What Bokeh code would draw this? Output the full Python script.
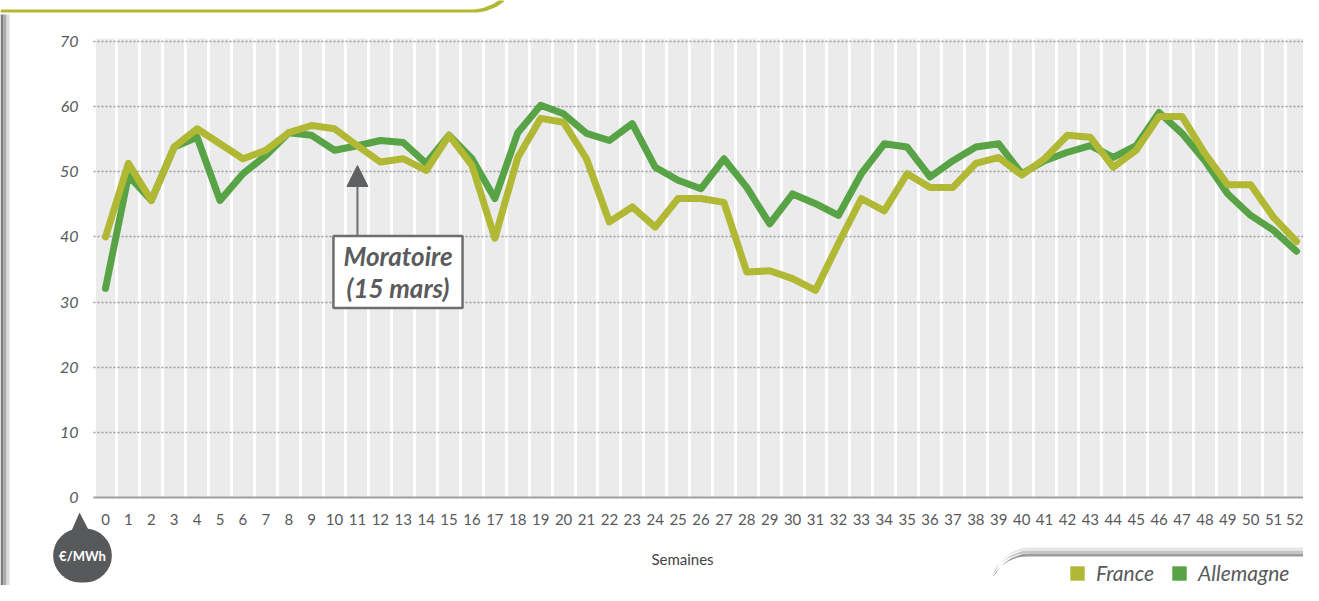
import math
import numpy as np
from bokeh.plotting import figure
from bokeh.models import (Range1d, FixedTicker, Label, Arrow, NormalHead, Legend, LegendItem,
                          BoxAnnotation, PolyAnnotation)
from bokeh.embed import file_html
from bokeh.resources import INLINE

weeks = list(range(53))
france = [40.0, 51.3, 45.6, 53.8, 56.6, 54.3, 52.0, 53.3, 56.0, 57.1, 56.6, 54.0, 51.5, 52.0, 50.2,
          55.6, 51.0, 39.8, 52.2, 58.2, 57.6, 52.0, 42.3, 44.6, 41.5, 45.9, 45.9, 45.3, 34.6, 34.8,
          33.6, 31.8, 39.0, 45.9, 44.0, 49.7, 47.6, 47.6, 51.3, 52.2, 49.5, 52.0, 55.6, 55.3, 50.7,
          53.3, 58.5, 58.5, 52.8, 48.0, 48.0, 43.0, 39.3]
germany = [32.1, 49.4, 45.6, 53.8, 55.3, 45.6, 49.7, 52.5, 56.0, 55.6, 53.3, 54.0, 54.8, 54.5, 51.3,
           55.6, 52.0, 45.9, 56.0, 60.2, 58.9, 55.9, 54.8, 57.4, 50.7, 48.7, 47.4, 52.0, 47.6, 42.0,
           46.6, 45.1, 43.3, 49.7, 54.3, 53.8, 49.2, 51.7, 53.8, 54.3, 49.7, 51.7, 53.0, 54.0, 52.2,
           54.0, 59.1, 55.9, 51.7, 46.6, 43.3, 41.0, 37.8]
y_ticks = [0, 10, 20, 30, 40, 50, 60, 70]
series_names = ["France", "Allemagne"]
x_title = "Semaines"
unit_text = "€/MWh"
note_text = "Moratoire\n(15 mars)"
note_week = 11

C_FR = "#b1b834"
C_DE = "#58a345"
GREY_TXT = "#58595b"
FONT = "Lato"
W, H = 1303, 585

# canvas pixel -> data helpers (layout only)
PX0, PXS = 105.0, 22.904
PY0, PYS = 497.0, 6.5143
def X(px):
    return (px - PX0) / PXS
def Y(py):
    return (PY0 - py) / PYS

p = figure(width=W, height=H, x_range=Range1d(X(0), X(W)), y_range=Range1d(Y(H), Y(0)),
           output_backend="svg", toolbar_location=None, title=None,
           min_border_left=0, min_border_right=0, min_border_top=0, min_border_bottom=0)
p.background_fill_color = "white"
p.border_fill_color = "white"
p.outline_line_color = None

# grey plotting panel
p.add_layout(BoxAnnotation(left=X(93), bottom=0, top=Y(38), fill_color="#ebebeb", fill_alpha=1,
                           line_color=None, level="image"))

# axes (fixed inside the canvas)
p.xaxis.fixed_location = 0
p.xaxis.bounds = (X(93), X(W))
p.xaxis.ticker = FixedTicker(ticks=weeks)
p.xaxis.axis_line_color = "#a0a0a0"
p.xaxis.axis_line_width = 2
p.xaxis.major_tick_line_color = None
p.xaxis.minor_tick_line_color = None
p.xaxis.major_label_text_font = FONT
p.xaxis.major_label_text_font_size = "15px"
p.xaxis.major_label_text_color = GREY_TXT
p.xaxis.major_label_standoff = 10

p.yaxis.fixed_location = X(93)
p.yaxis.bounds = (0, 70)
p.yaxis.ticker = FixedTicker(ticks=y_ticks)
p.yaxis.axis_line_color = None
p.yaxis.major_tick_line_color = None
p.yaxis.minor_tick_line_color = None
p.yaxis.major_label_text_font = FONT
p.yaxis.major_label_text_font_style = "italic"
p.yaxis.major_label_text_font_size = "16px"
p.yaxis.major_label_text_color = GREY_TXT
p.yaxis.major_label_standoff = 9

# grids
p.xgrid.ticker = FixedTicker(ticks=[i + 0.5 for i in range(-1, 53)])
p.xgrid.cross_bounds = (0, Y(38))
p.xgrid.grid_line_color = "white"
p.xgrid.grid_line_width = 3
p.ygrid.ticker = FixedTicker(ticks=y_ticks[1:])
p.ygrid.cross_bounds = (X(93), X(W))
p.ygrid.grid_line_color = "#9a9a9a"
p.ygrid.grid_line_width = 1.5
p.ygrid.grid_line_dash = "2 2"

# series
p.line(weeks, germany, line_width=7, color=C_DE, line_join="round", line_cap="round")
p.line(weeks, france, line_width=7, color=C_FR, line_join="round", line_cap="round")

# Moratoire annotation
p.add_layout(Arrow(x_start=note_week, y_start=Y(241), x_end=note_week, y_end=Y(165),
                   end=NormalHead(size=21, fill_color="#5f6062", line_color="#5f6062"),
                   line_color="#6d6e70", line_width=2))
p.add_layout(Label(x=X(397.5), y=Y(271.5), text=note_text, text_align="center",
                   text_baseline="middle", text_font=FONT, text_font_style="bold italic",
                   text_font_size="26px", text_color="#5b5b5d", text_line_height=1.0,
                   background_fill_color="white", border_line_color="#6d6e70",
                   border_line_width=2.5, padding=(10, 4)))

# x title
p.add_layout(Label(x=X(682), y=Y(558), text=x_title, text_align="center", text_baseline="middle",
                   text_font=FONT, text_font_size="15px", text_color="#444444"))

# unit badge
p.add_layout(PolyAnnotation(xs=[X(69), X(79), X(91)], ys=[Y(535), Y(512), Y(535)],
                            fill_color=GREY_TXT, fill_alpha=1, line_color=None))
p.add_layout(Label(x=X(82), y=Y(555), text=unit_text, text_align="center", text_baseline="middle",
                   text_font=FONT, text_font_style="bold", text_font_size="13px", text_color="white",
                   background_fill_color=GREY_TXT, border_radius=27, padding=(6, 19)))

# frame decorations: top green rule with curved end, left shadow, bottom-right tab edge
R = 48.0
arc = [(470 + R * math.sin(math.radians(a)), (10.5 - R) + R * math.cos(math.radians(a)))
       for a in range(0, 41, 4)]
top_x = [X(0)] + [X(x) for x, _ in arc] + [X(x + 3) for x, _ in reversed(arc)] + [X(0)]
top_y = [Y(9)] + [Y(y - 1.5) for _, y in arc] + [Y(y + 1.5) for _, y in reversed(arc)] + [Y(12)]
p.add_layout(PolyAnnotation(xs=top_x, ys=top_y, fill_color=C_FR, fill_alpha=1, line_color=None))

for x0, x1, col in [(0, 3, "#7d7d7d"), (3, 6, "#a9a9a9"), (6, 9, "#dcdcdc")]:
    p.add_layout(BoxAnnotation(left=X(x0), right=X(x1), top=Y(14), bottom=Y(H),
                               fill_color=col, fill_alpha=1, line_color=None))

R2 = 40.0
arc2 = [(1030 - R2 * math.sin(math.radians(a)), (553 + R2) - R2 * math.cos(math.radians(a)))
        for a in range(0, 61, 5)]
for off, col in [(0, "#9b9b9b"), (-3, "#c4c4c4"), (-6, "#e6e6e6")]:
    bx = [X(W)] + [X(x) for x, _ in arc2] + [X(x - 3) for x, _ in reversed(arc2)] + [X(W)]
    by = [Y(553 + off)] + [Y(y + off) for _, y in arc2] + [Y(y + off + 3) for _, y in reversed(arc2)] + [Y(556 + off)]
    p.add_layout(PolyAnnotation(xs=bx, ys=by, fill_color=col, fill_alpha=1, line_color=None))

# legend (swatch renderers hold no visible geometry)
nan = [np.nan]
r_fr = p.quad(left=nan, right=nan, top=nan, bottom=nan, fill_color=C_FR, line_color=None)
r_de = p.quad(left=nan, right=nan, top=nan, bottom=nan, fill_color=C_DE, line_color=None)
legend = Legend(items=[LegendItem(label=series_names[0], renderers=[r_fr]),
                       LegendItem(label=series_names[1], renderers=[r_de])],
                location=(1068, 0), orientation="horizontal", glyph_width=18, glyph_height=18,
                label_standoff=10, spacing=16, padding=0, margin=0, border_line_color=None,
                background_fill_alpha=0, label_text_font=FONT, label_text_font_style="italic",
                label_text_font_size="21px", label_text_color=GREY_TXT, label_height=18)
p.add_layout(legend)

open("out.html", "w").write(file_html(p, INLINE))
